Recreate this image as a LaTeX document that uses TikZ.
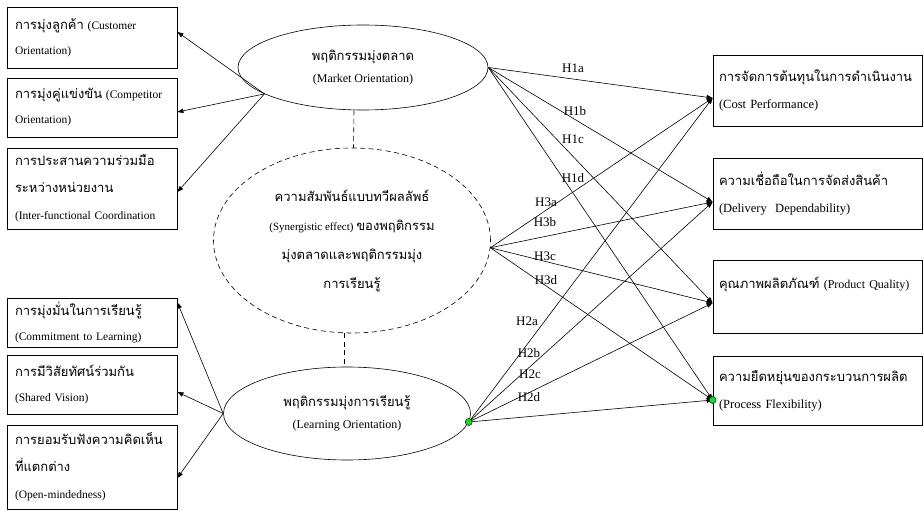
\documentclass[tikz,border=0pt]{standalone}
\usepackage{fontspec}
\setmainfont{Liberation Serif}
\newfontfamily\thaifont[Script=Thai]{Loma}
\usetikzlibrary{shapes.geometric,arrows.meta}
\definecolor{handlegreen}{RGB}{20,220,40}
\newcommand{\tha}[1]{{\thaifont\fontsize{13}{24}\selectfont #1}}

\begin{document}
\begin{tikzpicture}[x=1pt,y=-1pt,
    factor/.style={draw, line width=0.8pt, text width=154pt, align=left, inner xsep=8pt, inner ysep=4pt, font=\fontsize{11.5}{25}\selectfont},
    outcome/.style={draw, line width=0.8pt, text width=197pt, align=left, inner xsep=6pt, inner ysep=4pt, font=\fontsize{12.5}{27}\selectfont},
    construct/.style={draw, ellipse, line width=0.6pt, inner sep=0pt, align=center, font=\fontsize{12}{22}\selectfont},
    link/.style={-{Triangle[length=6pt,width=4.5pt]}, line width=0.6pt},
    hlabel/.style={font=\fontsize{13}{15}\selectfont, inner sep=0pt},
    handle/.style={circle, draw, fill=handlegreen, minimum size=7pt, inner sep=0pt}]
    \useasboundingbox (0,0) rectangle (924,513);
    % Market orientation and its dimensions
    \node[construct, minimum width=250pt, minimum height=85pt] (mkt) at (363,67.5)
        {\tha{พฤติกรรมมุ่งตลาด}\\(Market Orientation)};
    \node[factor, minimum height=61pt] (cust) at (92,37.5)
        {\tha{การมุ่งลูกค้า} (Customer\\Orientation)};
    \node[factor, minimum height=59pt] (comp) at (92,107.5)
        {\tha{การมุ่งคู่แข่งขัน} (Competitor\\Orientation)};
    \node[factor, minimum height=81pt, font=\fontsize{11.5}{27}\selectfont] (inter) at (92,188.5)
        {\tha{การประสานความร่วมมือ}\\\tha{ระหว่างหน่วยงาน}\\(Inter-functional Coordination};
    \draw[link] (mkt.195) -- ([yshift=5.5pt]cust.east);
    \draw[link] (mkt.195) -- ([yshift=-4.5pt]comp.east);
    \draw[link] (mkt.195) -- ([yshift=-3.5pt]inter.east);
    % Synergy
    \node[construct, dashed, dash pattern=on 5pt off 3.5pt, minimum width=277pt, minimum height=185pt,
        font=\fontsize{11}{29}\selectfont] (syn) at (352,240.5)
        {\tha{ความสัมพันธ์แบบทวีผลลัพธ์}\\(Synergistic effect) \tha{ของพฤติกรรม}\\
         \tha{มุ่งตลาดและพฤติกรรมมุ่ง}\\\tha{การเรียนรู้}};
    % Learning orientation and its dimensions
    \node[construct, minimum width=247pt, minimum height=93pt] (lrn) at (347,413.5)
        {\tha{พฤติกรรมมุ่งการเรียนรู้}\\(Learning Orientation)};
    \node[factor, minimum height=49pt] (commit) at (92,322.5)
        {\tha{การมุ่งมั่นในการเรียนรู้}\\(Commitment to Learning)};
    \node[factor, minimum height=59pt] (shared) at (92,384.5)
        {\tha{การมีวิสัยทัศน์ร่วมกัน}\\(Shared Vision)};
    \node[factor, minimum height=84pt, font=\fontsize{11.5}{27}\selectfont] (open) at (92,467)
        {\tha{การยอมรับฟังความคิดเห็น}\\\tha{ที่แตกต่าง}\\(Open-mindedness)};
    \draw[link] (lrn.west) -- ([yshift=20pt]commit.east);
    \draw[link] (lrn.west) -- ([yshift=-7.5pt]shared.east);
    \draw[link] (lrn.west) -- ([yshift=-11pt]open.east);
    % dashed ties
    \draw[dashed, dash pattern=on 5pt off 3.5pt, line width=0.6pt] ([xshift=-9pt]mkt.south) -- ([xshift=1.5pt]syn.north);
    \draw[dashed, dash pattern=on 5pt off 3.5pt, line width=0.6pt] ([xshift=-8pt]syn.south) -- ([xshift=-3pt]lrn.north);
    % Operational performance
    \node[outcome, minimum height=71pt] (cost) at (817.5,90.5)
        {\tha{การจัดการต้นทุนในการดำเนินงาน}\\(Cost Performance)};
    \node[outcome, minimum height=71pt] (deliv) at (817.5,193.5)
        {\tha{ความเชื่อถือในการจัดส่งสินค้า}\\(Delivery\ \ Dependability)};
    \node[outcome, minimum height=73pt] (qual) at (817.5,296.5)
        {\mbox{\tha{คุณภาพผลิตภัณฑ์} {\fontsize{12}{27}\selectfont(Product Quality)}}\\\mbox{}};
    \node[outcome, minimum height=69pt] (flex) at (817.5,390.5)
        {\tha{ความยืดหยุ่นของกระบวนการผลิต}\\(Process Flexibility)};
    \coordinate (costin) at ([yshift=-7.5pt]cost.west);
    \coordinate (delivin) at ([yshift=-8.5pt]deliv.west);
    \coordinate (qualin) at ([yshift=-6.5pt]qual.west);
    \coordinate (flexin) at ([yshift=-9.5pt]flex.west);
    % Hypotheses
    \foreach \src in {mkt.east, syn.-3, lrn.-4}
        \foreach \tgt in {costin, delivin, qualin, flexin}
            \draw[link] (\src) -- (\tgt);
    \node[hlabel] (h1a) at (573,68) {H1a};
    \node[hlabel] (h1b) at (575,111) {H1b};
    \node[hlabel] (h1c) at (573,139) {H1c};
    \node[hlabel] (h1d) at (573,178) {H1d};
    \node[hlabel] (h3a) at (546,202) {H3a};
    \node[hlabel] (h3b) at (545,222) {H3b};
    \node[hlabel] (h3c) at (545,256) {H3c};
    \node[hlabel] (h3d) at (546,280) {H3d};
    \node[hlabel] (h2a) at (527,321) {H2a};
    \node[hlabel] (h2b) at (529,353) {H2b};
    \node[hlabel] (h2c) at (530,374) {H2c};
    \node[hlabel] (h2d) at (529,397) {H2d};
    % handles
    \node[handle] (dot1) at (lrn.-4) {};
    \node[handle] (dot2) at (flexin) {};
\end{tikzpicture}
\end{document}
